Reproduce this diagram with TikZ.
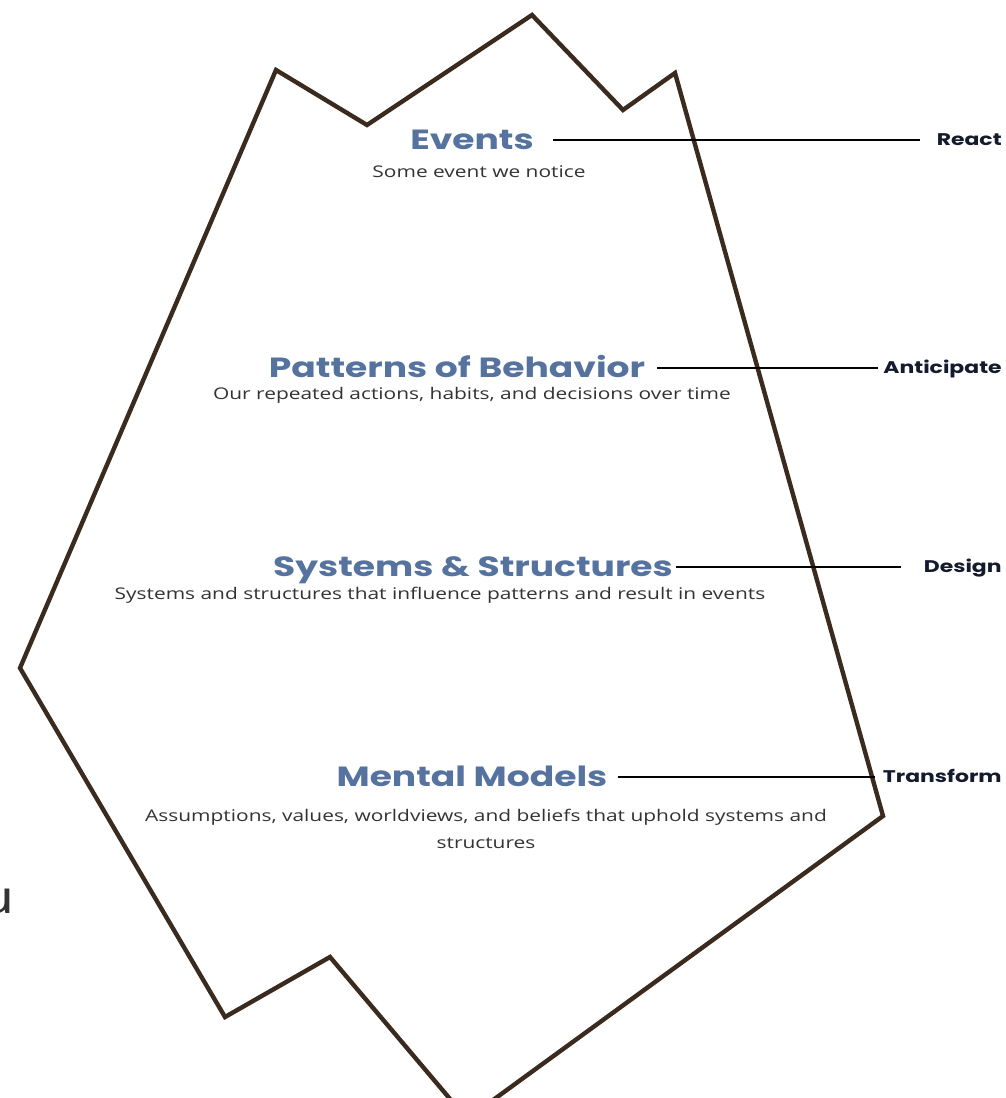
\documentclass[tikz,border=0pt]{standalone}
\usepackage{fontspec}
\setmainfont{Open Sans}[FakeStretch=1.3]
\newfontfamily\poppins{Poppins}[FakeStretch=1.3]
\usetikzlibrary{calc}
\definecolor{hull}{HTML}{3B2A1E}
\definecolor{slate}{HTML}{55739E}
\definecolor{ink}{HTML}{141B2D}
\definecolor{grey}{HTML}{333333}
\tikzset{
	title/.style={font=\poppins\bfseries\fontsize{15.8}{18}\selectfont, text=slate, inner sep=0pt, text depth=0pt, text height=11pt},
	sub/.style={font=\fontsize{9.15}{15.3}\selectfont, text=grey, inner sep=0pt, align=center},
	tag/.style={font=\poppins\bfseries\fontsize{9.6}{12}\selectfont, text=ink, inner sep=0pt, text depth=0pt, text height=6.8pt},
	link/.style={line width=1.5pt, black},
	hullline/.style={line width=2.5pt, color=hull, line join=miter}
}

\begin{document}
\begin{tikzpicture}[x=0.02cm, y=-0.02cm]
			%%%%% START %%%%%
			
			\useasboundingbox[fill=white] (0, 0) rectangle (1005, 1098);
			
			\draw[hullline] (532, 15) -- (623, 110) -- (675, 73) -- (883, 816) -- (467, 1119) -- (330, 957) -- (225, 1017) -- (20, 668) -- (276, 70) -- (367, 125) -- cycle;
			
			\node[title] (events) at (472, 140) {Events};
			\node[sub] (eventssub) at (479, 172) {Some event we notice};
			\node[tag, anchor=east] (react) at (1002, 140) {React};
			\draw[link] ([xshift=19*0.02cm]events.east) -- ([xshift=-16*0.02cm]react.west);
			
			\node[title] (patterns) at (457, 368) {Patterns of Behavior};
			\node[sub] (patternssub) at (472, 395) {Our repeated actions, habits, and decisions over time};
			\node[tag, anchor=east] (anticipate) at (1002, 368) {Anticipate};
			\draw[link] ([xshift=12*0.02cm]patterns.east) -- ([xshift=-5*0.02cm]anticipate.west);
			
			\node[title] (systems) at (473, 567) {Systems \& Structures};
			\node[sub] (systemssub) at (440, 595) {Systems and structures that influence patterns and result in events};
			\node[tag, anchor=east] (design) at (1002, 567) {Design};
			\draw[link] ([xshift=3*0.02cm]systems.east) -- ([xshift=-22*0.02cm]design.west);
			
			\node[title] (mental) at (472, 777) {Mental Models};
			\node[sub] (mentalsub) at (486, 829) {Assumptions, values, worldviews, and beliefs that uphold systems and\\structures};
			\node[tag, anchor=east] (transform) at (1002, 777) {Transform};
			\draw[link] ([xshift=10*0.02cm]mental.east) -- ([xshift=-8*0.02cm]transform.west);
			
			\node[font=\fontsize{26}{26}\selectfont, text=grey, inner sep=0pt, anchor=base east] (stray) at (15, 913) {u};
			
			%%%%% END %%%%%
		\end{tikzpicture}
\end{document}
